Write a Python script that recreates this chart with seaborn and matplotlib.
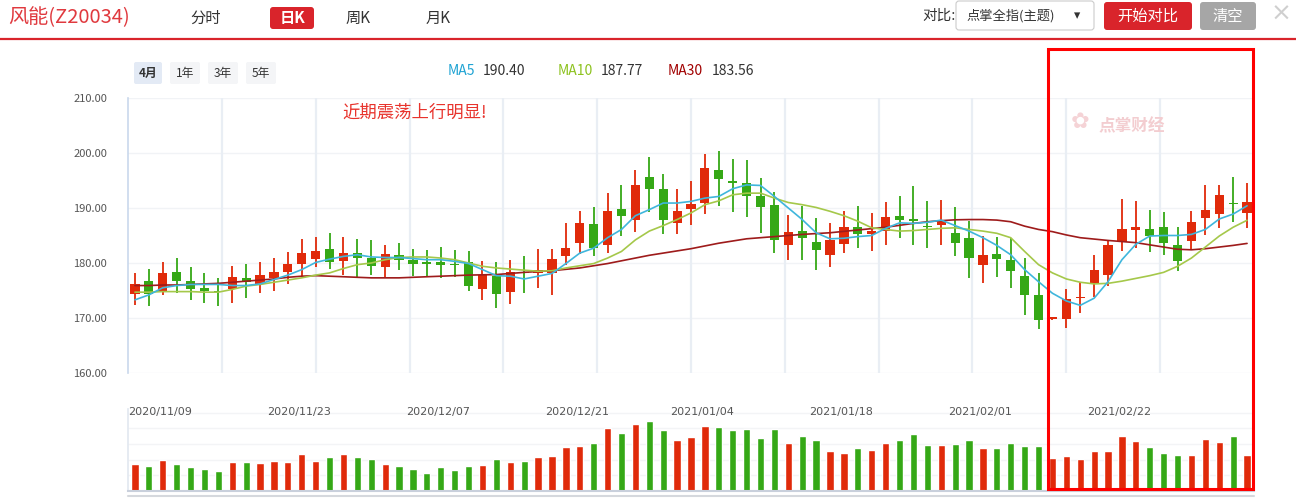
import numpy as np
import pandas as pd
import matplotlib
matplotlib.use("Agg")
import matplotlib.pyplot as plt
import seaborn as sns
from matplotlib.patches import FancyBboxPatch, Rectangle
from matplotlib.ticker import FixedLocator, FuncFormatter

# ---------------- data ----------------
opens = [174.3, 176.8, 175.0, 178.4, 176.8, 175.5, 175.0, 175.2, 177.3, 176.1,
         177.3, 178.3, 179.9, 180.8, 182.6, 180.4, 181.9, 181.0, 179.3, 181.5,
         180.6, 179.95, 180.1, 179.9, 180.1, 175.3, 177.7, 174.8, 178.2, 178.1,
         178.1, 181.3, 183.7, 187.0, 183.3, 189.9, 187.9, 195.6, 193.5, 187.2,
         189.9, 191.0, 197.0, 194.75, 194.6, 192.2, 190.6, 183.2, 185.9, 183.9,
         181.5, 183.5, 186.6, 185.2, 185.9, 188.6, 188.0, 186.8, 186.9, 185.4,
         184.5, 179.7, 181.6, 180.5, 177.7, 174.2, 169.8, 169.8, 173.6, 176.3,
         177.9, 183.8, 186.0, 186.2, 186.5, 183.2, 184.0, 188.2, 188.9, 191.0, 189.1]
highs = [178.1, 179.0, 180.2, 181.0, 179.3, 178.1, 177.2, 179.5, 179.9, 180.2,
         181.0, 182.0, 184.3, 184.7, 185.5, 184.8, 184.3, 184.2, 183.3, 183.6,
         182.6, 182.3, 183.0, 182.4, 182.2, 180.4, 180.2, 180.6, 181.2, 182.6,
         182.6, 187.3, 189.5, 190.2, 192.8, 194.2, 197.0, 199.2, 196.2, 193.5,
         195.0, 199.9, 200.4, 199.0, 198.8, 195.5, 193.0, 188.8, 190.4, 188.2,
         187.2, 189.5, 190.4, 189.1, 191.1, 192.1, 194.0, 191.2, 191.4, 190.2,
         187.6, 184.9, 184.7, 184.5, 180.9, 178.1, 170.2, 175.3, 176.6, 181.4,
         184.2, 191.7, 191.3, 189.7, 189.3, 186.5, 189.5, 194.1, 194.1, 195.6, 194.6]
lows = [172.3, 172.1, 174.1, 174.5, 173.2, 172.8, 172.1, 172.8, 173.7, 174.5,
        175.0, 176.1, 177.6, 179.2, 179.0, 177.9, 177.5, 177.9, 177.5, 178.8,
        177.6, 177.5, 177.3, 177.5, 175.0, 173.3, 171.8, 172.6, 174.6, 175.5,
        174.2, 179.7, 181.7, 181.3, 181.9, 185.0, 185.7, 189.3, 185.2, 185.3,
        187.0, 189.0, 190.4, 189.2, 188.4, 185.5, 181.9, 180.6, 180.6, 178.8,
        179.2, 181.9, 182.7, 182.2, 183.2, 184.6, 183.2, 182.8, 183.3, 181.2,
        177.2, 176.4, 177.5, 175.5, 170.6, 168.0, 169.7, 168.2, 170.9, 173.9,
        175.9, 182.1, 182.7, 182.0, 181.4, 178.5, 182.3, 185.1, 186.4, 187.5, 186.4]
closes = [176.2, 174.3, 178.1, 176.8, 175.2, 175.0, 174.7, 177.5, 176.5, 177.9,
          178.4, 179.9, 181.9, 182.2, 180.2, 181.9, 181.0, 179.5, 181.7, 180.6,
          179.9, 179.8, 179.7, 179.6, 175.9, 177.9, 174.4, 178.4, 178.1, 178.8,
          180.8, 182.8, 187.3, 182.8, 189.5, 188.6, 194.2, 193.5, 187.9, 189.5,
          190.8, 197.2, 195.2, 194.6, 192.2, 190.2, 184.2, 185.7, 184.6, 182.4,
          184.1, 186.6, 185.3, 185.9, 188.4, 187.9, 187.6, 186.5, 187.8, 183.7,
          180.9, 181.4, 180.7, 178.5, 174.1, 169.6, 170.1, 173.5, 173.8, 178.7,
          183.2, 186.2, 186.5, 184.9, 183.6, 180.3, 187.5, 189.7, 192.3, 190.7, 191.1]
ma5 = [173.3, 174.2, 175.5, 175.9, 176.1, 176.1, 176.1, 175.9, 175.9, 176.2,
       177.0, 177.8, 178.8, 180.1, 180.7, 181.2, 181.5, 181.1, 181.0, 181.0,
       180.8, 180.6, 180.6, 180.3, 179.9, 178.8, 177.7, 177.6, 177.1, 177.6,
       178.1, 179.9, 181.8, 182.7, 184.6, 186.1, 188.6, 189.7, 190.9, 190.9,
       191.2, 191.8, 192.1, 193.5, 194.2, 194.1, 192.1, 190.0, 187.9, 185.5,
       184.4, 184.5, 184.8, 185.0, 186.3, 187.3, 187.2, 187.4, 187.8, 186.8,
       185.8, 184.6, 183.2, 181.5, 178.8, 176.6, 174.5, 173.1, 172.3, 173.6,
       176.6, 180.6, 183.4, 184.9, 185.0, 185.0, 185.2, 186.1, 188.0, 188.9, 190.4]
ma10 = [174.7, 174.7, 174.8, 174.8, 174.8, 174.7, 174.7, 175.2, 175.8, 176.1,
        176.5, 176.9, 177.3, 177.8, 178.2, 179.0, 179.7, 180.0, 180.6, 181.0,
        181.1, 181.1, 180.9, 180.6, 180.0, 179.4, 179.1, 178.9, 178.7, 178.5,
        178.6, 179.1, 179.5, 179.9, 180.9, 182.1, 184.2, 185.8, 186.8, 187.9,
        189.1, 190.6, 191.3, 192.4, 192.7, 192.7, 191.8, 191.0, 190.6, 190.1,
        189.4, 188.6, 187.6, 186.4, 186.1, 185.8, 185.9, 186.1, 186.3, 186.4,
        186.1, 185.8, 185.4, 184.6, 182.1, 179.7, 178.2, 177.1, 176.5, 176.2,
        176.3, 176.7, 177.2, 177.7, 178.3, 179.4, 180.9, 182.9, 184.9, 186.5, 187.77]
ma30 = [175.9, 175.9, 176.0, 176.0, 176.1, 176.2, 176.3, 176.5, 176.7, 176.9,
        177.1, 177.4, 177.6, 177.7, 177.6, 177.5, 177.4, 177.3, 177.3, 177.3,
        177.4, 177.5, 177.6, 177.7, 177.8, 177.85, 177.9, 178.1, 178.3, 178.45,
        178.6, 178.85, 179.1, 179.5, 179.9, 180.4, 180.9, 181.4, 181.8, 182.2,
        182.6, 183.1, 183.6, 184.0, 184.4, 184.6, 184.8, 185.0, 185.2, 185.35,
        185.5, 185.75, 186.0, 186.25, 186.5, 186.85, 187.2, 187.5, 187.7, 187.85,
        187.9, 187.9, 187.8, 187.5, 186.7, 186.1, 185.7, 185.1, 184.6, 184.35,
        184.1, 183.9, 183.7, 183.3, 182.9, 182.5, 182.4, 182.6, 182.9, 183.2, 183.56]
volumes = [80, 74, 92, 80, 71, 65, 59, 86, 86, 83,
           89, 86, 110, 89, 101, 110, 101, 95, 80, 74,
           65, 53, 71, 62, 74, 77, 95, 86, 89, 101,
           104, 131, 134, 143, 188, 173, 200, 209, 182, 152,
           161, 194, 191, 182, 185, 158, 185, 143, 164, 152,
           119, 113, 128, 122, 143, 152, 170, 137, 137, 140,
           152, 128, 128, 143, 134, 134, 98, 104, 95, 119,
           119, 164, 149, 131, 113, 107, 107, 155, 146, 164, 107]
date_labels = ["2020/11/09", "2020/11/23", "2020/12/07", "2020/12/21",
               "2021/01/04", "2021/01/18", "2021/02/01", "2021/02/22"]
date_label_idx = [0, 10, 20, 30, 39, 49, 59, 69]
y_ticks = [160, 170, 180, 190, 200, 210]
ma_last = {"MA5": "190.40", "MA10": "187.77", "MA30": "183.56"}

# ---------------- style ----------------
sns.set_theme(style="white")
plt.rcParams["font.family"] = ["Noto Sans CJK SC", "DejaVu Sans"]

RED = "#e02a0a"
GREEN = "#35a816"
C_MA5 = "#3fb6dc"
C_MA10 = "#a5c84a"
C_MA30 = "#9e1b1b"

n = len(closes)
idx = np.arange(n)
df = pd.DataFrame({"i": idx, "open": opens, "high": highs, "low": lows,
                   "close": closes, "ma5": ma5, "ma10": ma10, "ma30": ma30,
                   "vol": volumes})
df["dir"] = np.where(df["close"] >= df["open"], "up", "down")

W, H = 1296, 499
fig = plt.figure(figsize=(W / 100, H / 100), dpi=100)


def rect(x0, y0, x1, y1):
    return [x0 / W, 1 - y1 / H, (x1 - x0) / W, (y1 - y0) / H]


# ---------------- main candle axes ----------------
ax = fig.add_axes(rect(128, 98, 1254, 373))
ax.set_xlim(-0.5, n - 0.5)
ax.set_ylim(160, 210)
for s in ["top", "right", "bottom"]:
    ax.spines[s].set_visible(False)
ax.spines["left"].set_color("#c9d8ec")
ax.spines["left"].set_linewidth(1.2)
for yv in y_ticks:
    ax.axhline(yv, color="#f1f3f6", lw=1, zorder=0)
for k in range(1, 12):
    ax.axvline(-0.5 + k * n / 12, color="#e9eef4", lw=1.6, zorder=0)
ax.yaxis.set_major_locator(FixedLocator(y_ticks))
ax.yaxis.set_major_formatter(FuncFormatter(lambda v, p: f"{v:.2f}"))
ax.tick_params(axis="y", length=0, pad=15, labelsize=8, labelcolor="#555555")
ax.set_xticks([])

colors = [RED if d == "up" else GREEN for d in df["dir"]]
ax.vlines(df["i"], df["low"], df["high"], colors=colors, lw=1.3, zorder=2)
body_bottom = np.minimum(df["open"], df["close"])
body_h = np.maximum(np.abs(df["close"] - df["open"]), 0.3)
ax.bar(df["i"], body_h, bottom=body_bottom, width=0.66, color=colors,
       zorder=3, linewidth=0)

sns.lineplot(data=df, x="i", y="ma30", ax=ax, color=C_MA30, lw=1.2, zorder=4)
sns.lineplot(data=df, x="i", y="ma10", ax=ax, color=C_MA10, lw=1.2, zorder=4)
sns.lineplot(data=df, x="i", y="ma5", ax=ax, color=C_MA5, lw=1.2, zorder=5)
ax.set_xlabel("")
ax.set_ylabel("")
ax.set_xlim(-0.5, n - 0.5)
ax.set_ylim(160, 210)

# ---------------- volume axes ----------------
axv = fig.add_axes(rect(128, 409, 1254, 491))
sns.barplot(data=df, x="i", y="vol", hue="dir",
            palette={"up": RED, "down": GREEN}, dodge=False, legend=False,
            native_scale=True, width=0.52, saturation=1, ax=axv)
axv.set_xlim(-0.5, n - 0.5)
axv.set_ylim(0, 246)
axv.set_xlabel("")
axv.set_ylabel("")
axv.set_xticks([])
axv.set_yticks([])
for s in ["top", "right"]:
    axv.spines[s].set_visible(False)
axv.spines["left"].set_color("#e3e9f1")
axv.spines["bottom"].set_color("#c9d0dc")
axv.spines["bottom"].set_linewidth(1.5)
for gy in [47, 94, 141, 188, 235]:
    axv.axhline(gy, color="#f3f4f6", lw=1, zorder=0)
for lab, li in zip(date_labels, date_label_idx):
    axv.text(li - 0.5, 237, lab, fontsize=8, color="#555555",
             ha="left", va="center", family=["DejaVu Sans"])

# ---------------- overlay (header / decorations) ----------------
ov = fig.add_axes([0, 0, 1, 1], zorder=10)
ov.set_xlim(0, W)
ov.set_ylim(H, 0)
ov.axis("off")
ov.patch.set_visible(False)

ov.text(8, 18, "风能(Z20034)", fontsize=14.5, color="#e0393e", va="center")
ov.text(190, 18, "分时", fontsize=11, color="#333333", va="center")
ov.add_patch(FancyBboxPatch((270, 7), 44, 22, boxstyle="round,pad=0,rounding_size=3",
                            fc="#d9242b", ec="none"))
ov.text(292, 18, "日K", fontsize=11, color="white", va="center", ha="center",
        fontweight="bold")
ov.text(346, 18, "周K", fontsize=11, color="#333333", va="center")
ov.text(426, 18, "月K", fontsize=11, color="#333333", va="center")
ov.plot([0, W], [38.5, 38.5], color="#d9242b", lw=1.6)

ov.text(922, 16, "对比:", fontsize=10.5, color="#333333", va="center")
ov.add_patch(FancyBboxPatch((956, 1), 138, 29, boxstyle="round,pad=0,rounding_size=3",
                            fc="white", ec="#cccccc", lw=0.8))
ov.text(966, 16, "点掌全指(主题)", fontsize=9.5, color="#333333", va="center")
ov.text(1077, 16, "▾", fontsize=9, color="#333333", va="center", ha="center",
        family=["DejaVu Sans"])
ov.add_patch(FancyBboxPatch((1104, 2), 88, 28, boxstyle="round,pad=0,rounding_size=3",
                            fc="#d9242b", ec="none"))
ov.text(1148, 16, "开始对比", fontsize=11, color="white", va="center", ha="center")
ov.add_patch(FancyBboxPatch((1200, 2), 56, 28, boxstyle="round,pad=0,rounding_size=3",
                            fc="#a6a6a6", ec="none"))
ov.text(1228, 16, "清空", fontsize=11, color="white", va="center", ha="center")
ov.text(1281, 14, "×", fontsize=18, color="#cfcfcf", va="center", ha="center",
        family=["DejaVu Sans"])

for lab, x0, x1, sel in [("4月", 134, 162, True), ("1年", 170, 200, False),
                         ("3年", 208, 238, False), ("5年", 246, 276, False)]:
    ov.add_patch(FancyBboxPatch((x0, 62), x1 - x0, 22,
                                boxstyle="round,pad=0,rounding_size=2",
                                fc="#e3eaf5" if sel else "#f4f5f7", ec="none"))
    ov.text((x0 + x1) / 2, 73, lab, fontsize=8.5, color="#333333", ha="center",
            va="center", fontweight="bold" if sel else "normal")

ov.text(448, 71, "MA5", fontsize=10, color="#1fa3d3", va="center")
ov.text(483, 71, ma_last["MA5"], fontsize=10, color="#333333", va="center")
ov.text(558, 71, "MA10", fontsize=10, color="#8dc21f", va="center")
ov.text(601, 71, ma_last["MA10"], fontsize=10, color="#333333", va="center")
ov.text(668, 71, "MA30", fontsize=10, color="#a10000", va="center")
ov.text(712, 71, ma_last["MA30"], fontsize=10, color="#333333", va="center")

ov.text(342, 113, "近期震荡上行明显!", fontsize=12.5, color="#e8332c",
        va="center", ha="left")

ov.text(1098, 126, "点掌财经", fontsize=12, color="#f3cdd0", va="center",
        fontweight="bold")
ov.text(1080, 122, "✿", fontsize=16, color="#f5d3d6", va="center", ha="center",
        family=["DejaVu Sans"])

ov.add_patch(Rectangle((1048, 49), 205, 440, fill=False, ec="#ff0000", lw=2.2))
ov.plot([128, 1254], [495.5, 495.5], color="#d5d8dd", lw=1.5)

fig.savefig("out.png", dpi=100)
